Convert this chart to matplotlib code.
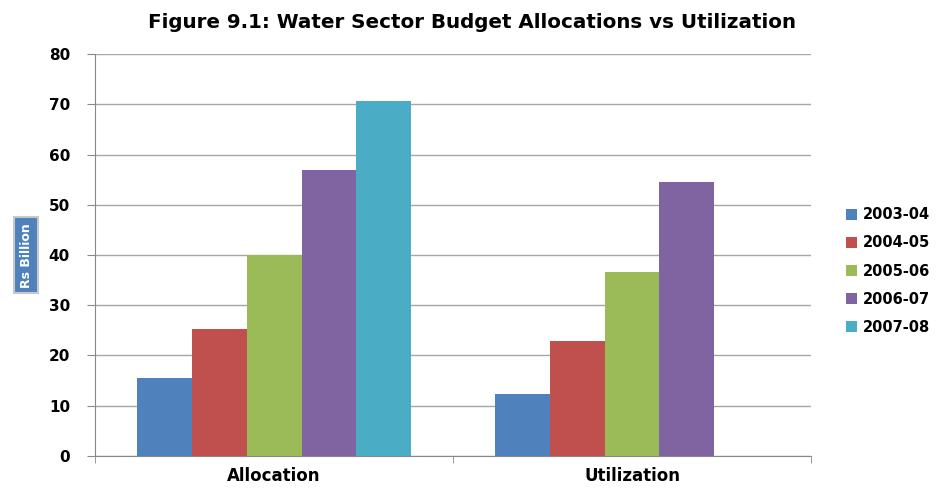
import numpy as np
import matplotlib
matplotlib.use("Agg")
import matplotlib.pyplot as plt

# data (Rs Billion)
categories = ["Allocation", "Utilization"]
years = ["2003-04", "2004-05", "2005-06", "2006-07", "2007-08"]
values = {
    "2003-04": [15.5, 12.3],
    "2004-05": [25.2, 22.8],
    "2005-06": [40.0, 36.6],
    "2006-07": [56.9, 54.6],
    "2007-08": [70.7, np.nan],
}
colors = ["#4F81BD", "#C0504D", "#9BBB59", "#8064A2", "#4BACC6"]

plt.rcParams["font.family"] = ["DejaVu Sans"]
fig = plt.figure(figsize=(9.38, 4.88), dpi=100)
ax = fig.add_axes([0.1013, 0.0656, 0.7633, 0.8237])

x = np.arange(len(categories))
bw = 0.1536
for i, yr in enumerate(years):
    ax.bar(x + (i - 2) * bw, values[yr], bw, color=colors[i], label=yr, zorder=3)

ax.set_xlim(-0.5, 1.5)
ax.set_ylim(0, 80)
ax.set_yticks(range(0, 81, 10))
ax.yaxis.grid(True, color="#a6a6a6", linewidth=1, zorder=0)

# category labels centred, tick marks at the boundaries
ax.set_xticks(x)
ax.set_xticklabels(categories, fontsize=12, fontweight="bold")
ax.tick_params(axis="x", length=0, pad=8)
ax.set_xticks([-0.5, 0.5, 1.5], minor=True)
ax.tick_params(axis="x", which="minor", length=5, color="#888888")
ax.tick_params(axis="y", length=6, color="#888888", labelsize=11, pad=12)
for lab in ax.get_yticklabels():
    lab.set_fontweight("bold")

for s in ["top", "right"]:
    ax.spines[s].set_visible(False)
for s in ["left", "bottom"]:
    ax.spines[s].set_color("#888888")

fig.text(0.503, 0.953, "Figure 9.1: Water Sector Budget Allocations vs Utilization",
         ha="center", va="center", fontsize=14.3, fontweight="bold")

fig.text(0.028, 0.477, "Rs Billion", rotation=90, ha="center", va="center",
         color="white", fontsize=9, fontweight="bold",
         bbox=dict(boxstyle="square,pad=0.45", facecolor="#4F81BD",
                   edgecolor="#c8c8c8", linewidth=1.5))

ax.legend(loc="center left", bbox_to_anchor=(1.03, 0.46), frameon=False,
          prop={"weight": "bold", "size": 10.5}, handlelength=0.8,
          handleheight=0.8, handletextpad=0.4, labelspacing=0.9)

fig.savefig("out.png", dpi=100)
